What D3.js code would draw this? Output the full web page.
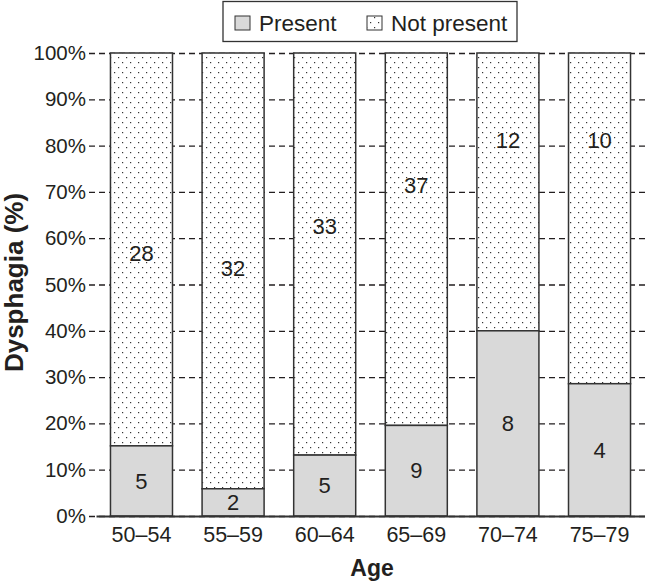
<!DOCTYPE html>
<html>
<head>
<meta charset="utf-8">
<script src="https://cdn.jsdelivr.net/npm/d3@7"></script>
<style>
  body { margin: 0; background: #fff; }
  text { font-family: "Liberation Sans", Arial, sans-serif; fill: #231f20; }
</style>
</head>
<body>
<div id="chart"></div>
<script>
// ==== data ====
var ageGroups = ["50\u201354", "55\u201359", "60\u201364", "65\u201369", "70\u201374", "75\u201379"];
var presentCounts = [5, 2, 5, 9, 8, 4];
var notPresentCounts = [28, 32, 33, 37, 12, 10];
// where the "not present" count sits (percent of axis)
var notPresentLabelPct = [56.8, 53.5, 62.5, 71.5, 81.2, 81.2];
var yTicks = [0, 10, 20, 30, 40, 50, 60, 70, 80, 90, 100];

var svgWidth = 645, svgHeight = 582;
var margin = { top: 53, bottom: 66, left: 96, right: 0 };

var svg = d3.select("#chart")
  .append("svg")
  .attr("width", svgWidth)
  .attr("height", svgHeight);

// dotted pattern for the "not present" part
var defs = svg.append("defs");
var pat = defs.append("pattern")
  .attr("id", "dots")
  .attr("patternUnits", "userSpaceOnUse")
  .attr("width", 8)
  .attr("height", 10);
pat.append("rect").attr("width", 8).attr("height", 10).attr("fill", "#fff");
pat.append("rect").attr("x", 2).attr("y", 2).attr("width", 1.2).attr("height", 1.2).attr("fill", "#333");
pat.append("rect").attr("x", 6).attr("y", 7).attr("width", 1.2).attr("height", 1.2).attr("fill", "#333");

// ==== scales ====
var xScale = d3.scaleBand()
  .domain(ageGroups)
  .range([margin.left, svgWidth - margin.right])
  .paddingInner(0.323)
  .paddingOuter(0.158);

var yScale = d3.scaleLinear()
  .domain([0, 100])
  .range([svgHeight - margin.bottom, margin.top]);

// dashed gridlines + y labels
var yAxis = d3.axisLeft(yScale)
  .tickValues(yTicks)
  .tickFormat(d => d + "%")
  .tickSize(-(svgWidth - margin.left + 7))
  .tickPadding(3);

var gy = svg.append("g")
  .attr("class", "yAxis")
  .attr("transform", `translate(${margin.left - 7},0)`)
  .call(yAxis);
gy.select(".domain").remove();
gy.selectAll(".tick line")
  .attr("stroke", "#231f20")
  .attr("stroke-width", 1.3)
  .attr("stroke-dasharray", "6,4");
gy.selectAll(".tick text")
  .style("font-size", "20.5px")
  .attr("fill", "#231f20");

// ==== bars ====
var rows = ageGroups.map((g, i) => {
  var total = presentCounts[i] + notPresentCounts[i];
  return {
    group: g,
    present: presentCounts[i],
    notPresent: notPresentCounts[i],
    pct: presentCounts[i] / total * 100,
    labelPct: notPresentLabelPct[i]
  };
});

var bars = svg.selectAll(".bar")
  .data(rows)
  .enter()
  .append("g")
  .attr("class", "bar");

bars.append("rect")
  .attr("x", d => xScale(d.group))
  .attr("y", yScale(100))
  .attr("width", xScale.bandwidth())
  .attr("height", d => yScale(d.pct) - yScale(100))
  .attr("fill", "url(#dots)")
  .attr("stroke", "#333")
  .attr("stroke-width", 1.5);

bars.append("rect")
  .attr("x", d => xScale(d.group))
  .attr("y", d => yScale(d.pct))
  .attr("width", xScale.bandwidth())
  .attr("height", d => yScale(0) - yScale(d.pct))
  .attr("fill", "#d9d9d9")
  .attr("stroke", "#333")
  .attr("stroke-width", 1.5);

bars.append("text")
  .attr("x", d => xScale(d.group) + xScale.bandwidth() / 2)
  .attr("y", d => yScale(d.pct / 2))
  .attr("dy", "0.35em")
  .attr("text-anchor", "middle")
  .style("font-size", "22px")
  .text(d => d.present);

bars.append("text")
  .attr("x", d => xScale(d.group) + xScale.bandwidth() / 2)
  .attr("y", d => yScale(d.labelPct))
  .attr("dy", "0.35em")
  .attr("text-anchor", "middle")
  .style("font-size", "22px")
  .text(d => d.notPresent);

// ==== x axis ====
var xAxis = d3.axisBottom(xScale).tickSize(0).tickPadding(11);
var gx = svg.append("g")
  .attr("class", "xAxis")
  .attr("transform", `translate(0,${yScale(0)})`)
  .call(xAxis);
gx.select(".domain").attr("stroke", "#333").attr("stroke-width", 2);
gx.selectAll(".tick text").style("font-size", "21.5px").attr("fill", "#231f20");

// ==== axis titles ====
svg.append("text")
  .attr("x", 372)
  .attr("y", 576)
  .attr("text-anchor", "middle")
  .style("font-size", "23px")
  .style("font-weight", "bold")
  .text("Age");

svg.append("text")
  .attr("transform", `translate(23,${yScale(50) - 2}) rotate(-90)`)
  .attr("text-anchor", "middle")
  .style("font-size", "26px")
  .style("font-weight", "bold")
  .text("Dysphagia (%)");

// ==== legend ====
var legend = svg.append("g").attr("class", "legend");
legend.append("rect")
  .attr("x", 223).attr("y", 1.5)
  .attr("width", 294).attr("height", 40)
  .attr("fill", "#fff")
  .attr("stroke", "#333")
  .attr("stroke-width", 1.3);

var legendItems = [
  { label: "Present", fill: "#d9d9d9", x: 235 },
  { label: "Not present", fill: "url(#dots)", x: 367 }
];
legendItems.forEach(function(item) {
  legend.append("rect")
    .attr("x", item.x).attr("y", 16)
    .attr("width", 15).attr("height", 14)
    .attr("fill", item.fill)
    .attr("stroke", "#333")
    .attr("stroke-width", 1);
  legend.append("text")
    .attr("x", item.x + 24)
    .attr("y", 23)
    .attr("dy", "0.35em")
    .style("font-size", "22.5px")
    .text(item.label);
});
</script>
</body>
</html>
